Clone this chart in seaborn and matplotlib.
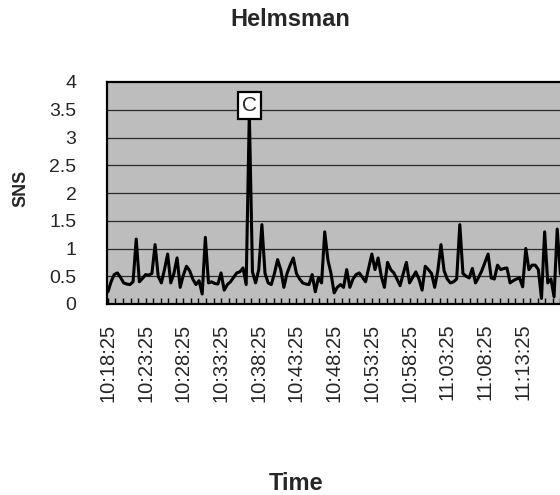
import numpy as np
import pandas as pd
import matplotlib
matplotlib.use("Agg")
import matplotlib.pyplot as plt
from matplotlib.ticker import MultipleLocator, FixedLocator
import seaborn as sns

# ---- data ----
step_seconds = 25
sns_values = [
    0.22, 0.40, 0.53, 0.56, 0.48, 0.38, 0.36, 0.35, 0.40, 1.17,
    0.40, 0.46, 0.53, 0.52, 0.55, 1.07, 0.50, 0.38, 0.62, 0.90,
    0.38, 0.55, 0.83, 0.30, 0.52, 0.68, 0.60, 0.45, 0.35, 0.42,
    0.18, 1.20, 0.38, 0.40, 0.37, 0.36, 0.56, 0.25, 0.35, 0.40,
    0.48, 0.56, 0.58, 0.65, 0.35, 3.45, 0.58, 0.38, 0.62, 1.43,
    0.55, 0.38, 0.35, 0.55, 0.80, 0.62, 0.30, 0.55, 0.70, 0.83,
    0.55, 0.45, 0.38, 0.36, 0.35, 0.53, 0.22, 0.47, 0.38, 1.30,
    0.80, 0.55, 0.20, 0.30, 0.35, 0.30, 0.62, 0.30, 0.45, 0.53,
    0.56, 0.48, 0.40, 0.65, 0.90, 0.62, 0.83, 0.50, 0.30, 0.75,
    0.62, 0.56, 0.45, 0.33, 0.55, 0.75, 0.38, 0.48, 0.58, 0.45,
    0.25, 0.68, 0.62, 0.55, 0.30, 0.60, 1.07, 0.60, 0.45, 0.38,
    0.40, 0.45, 1.43, 0.55, 0.50, 0.47, 0.64, 0.38, 0.48, 0.60,
    0.75, 0.90, 0.47, 0.45, 0.70, 0.62, 0.64, 0.65, 0.38, 0.42,
    0.45, 0.47, 0.31, 1.00, 0.62, 0.70, 0.70, 0.62, 0.10, 1.30,
    0.38, 0.45, 0.13, 1.35, 0.55, 0.42, 0.60, 0.48, 0.50,
]
tick_labels = ["10:18:25", "10:23:25", "10:28:25", "10:33:25", "10:38:25",
               "10:43:25", "10:48:25", "10:53:25", "10:58:25", "11:03:25",
               "11:08:25", "11:13:25"]
label_every_s = 300
minor_every_s = 60
y_ticks = [0, 0.5, 1, 1.5, 2, 2.5, 3, 3.5, 4]
annot_text = "C"

seconds = [i * step_seconds for i in range(len(sns_values))]
df = pd.DataFrame({"t": seconds, "SNS": sns_values})

sns.set_theme(style="white")
plt.rcParams["font.family"] = ["Liberation Sans", "DejaVu Sans"]

fig = plt.figure(figsize=(5.6, 4.95), dpi=100)
W, H = 560, 495
left, right, top, bottom = 107, 575, 82, 304
ax = fig.add_axes([left / W, 1 - bottom / H, (right - left) / W, (bottom - top) / H])
ax.set_facecolor("#bdbdbd")

sns.lineplot(data=df, x="t", y="SNS", color="black", linewidth=2.2, ax=ax, zorder=3)

px_per_s = 37.7 / 300
x0 = -0.3 * step_seconds
ax.set_xlim(x0, x0 + (right - left) / px_per_s)
ax.set_ylim(0, 4)

ax.set_yticks(y_ticks)
ax.set_yticklabels([("%g" % v) for v in y_ticks], fontsize=14)
major_pos = [i * label_every_s for i in range(len(tick_labels))]
ax.xaxis.set_major_locator(FixedLocator(major_pos))
ax.set_xticklabels(tick_labels, rotation=90, fontsize=14.5)
ax.xaxis.set_minor_locator(MultipleLocator(minor_every_s))

ax.tick_params(axis="x", which="both", direction="in", length=4, width=1,
               color="black", bottom=True, pad=14)
ax.tick_params(axis="y", which="both", length=0, pad=22)

for y in y_ticks[1:-1]:
    ax.axhline(y, color="#2a2a2a", linewidth=0.9, zorder=1)
ax.grid(False)

for s in ax.spines.values():
    s.set_color("black")
    s.set_linewidth(1.6)

ax.set_xlabel("")
ax.set_ylabel("")

peak_i = int(np.argmax(sns_values))
ax.annotate(annot_text, xy=(seconds[peak_i], sns_values[peak_i]),
            xytext=(0, -2), textcoords="offset points", ha="center", va="bottom",
            fontsize=15, zorder=5,
            bbox=dict(boxstyle="square,pad=0.2", fc="white", ec="black", lw=1.6))

fig.text(290 / W, 1 - 20 / H, "Helmsman", ha="center", va="center",
         fontsize=17, fontweight="bold")
fig.text(296 / W, 1 - 484 / H, "Time", ha="center", va="center",
         fontsize=17, fontweight="bold")
fig.text(21 / W, 1 - 188 / H, "SNS", ha="center", va="center", rotation=90,
         fontsize=13, fontweight="bold")

fig.savefig("out.png", dpi=100)
